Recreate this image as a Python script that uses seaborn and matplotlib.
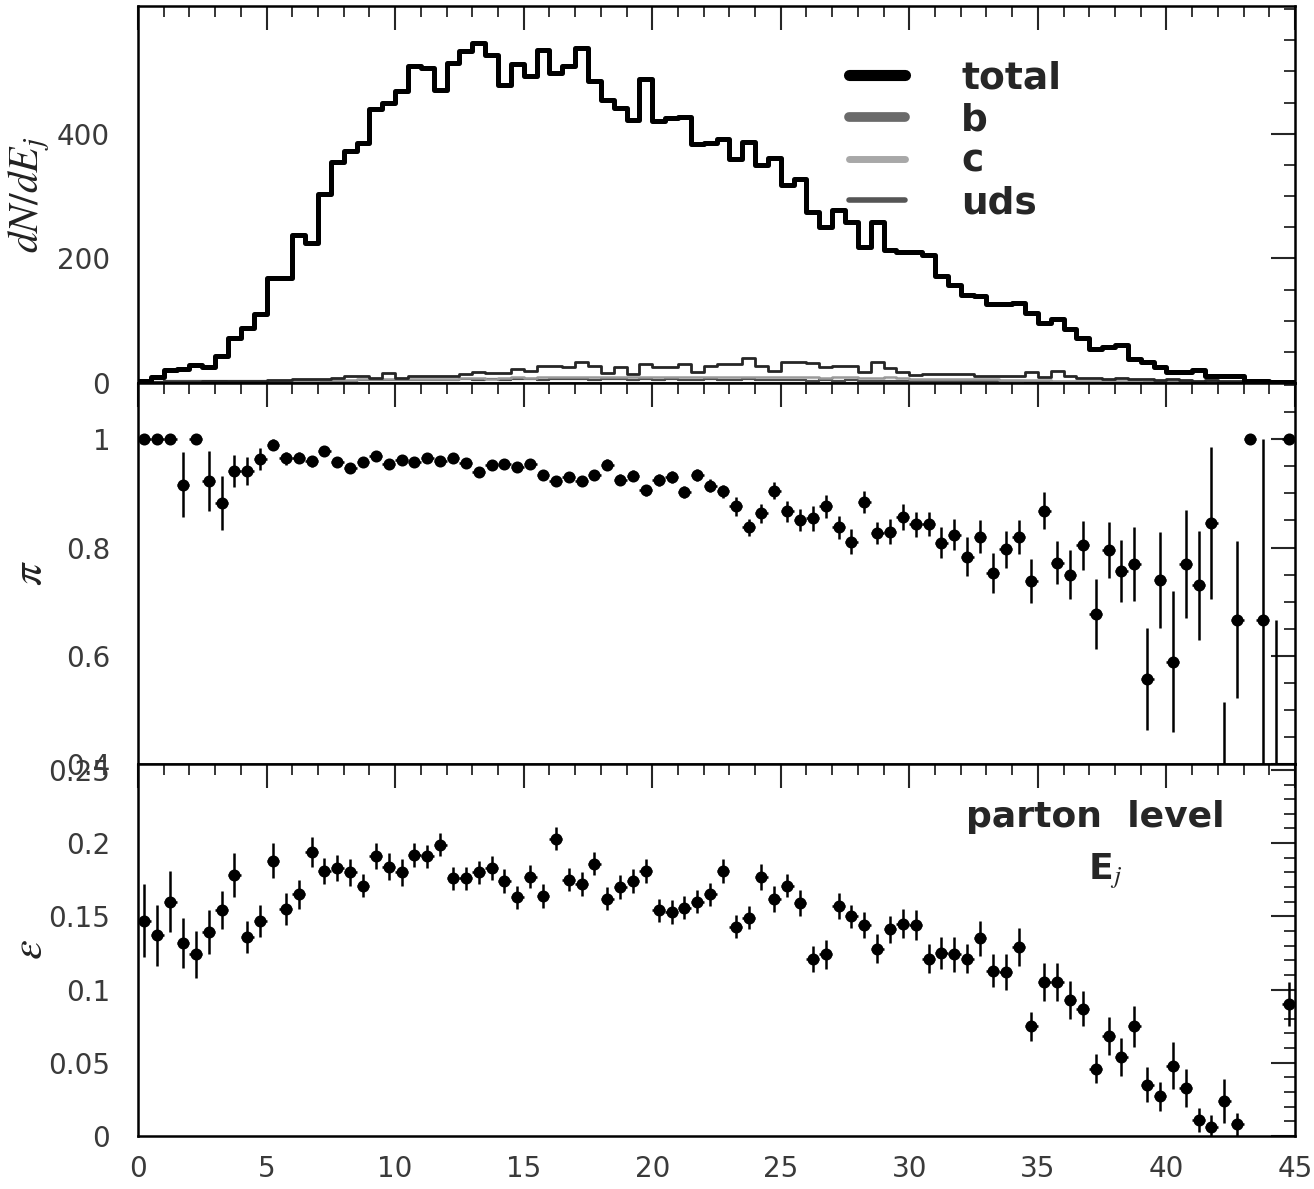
import numpy as np
import pandas as pd
import matplotlib
matplotlib.use("Agg")
import matplotlib.pyplot as plt
from matplotlib.ticker import MultipleLocator, FixedLocator, FuncFormatter
from matplotlib.lines import Line2D
import seaborn as sns

# ---------------- data ----------------
x_min, x_max, bin_width = 0.0, 45.0, 0.5

total_counts = [3, 9, 21, 22, 29, 25, 43, 72, 88, 110,
                168, 169, 238, 224, 304, 354, 372, 385, 439, 450,
                469, 509, 505, 470, 513, 533, 545, 526, 478, 512,
                492, 535, 498, 509, 537, 485, 454, 441, 422, 488,
                421, 426, 427, 384, 385, 392, 360, 387, 350, 361,
                317, 327, 274, 250, 277, 258, 218, 259, 214, 211,
                211, 206, 172, 157, 141, 139, 126, 126, 129, 113,
                96, 102, 86, 73, 54, 57, 61, 39, 33, 26,
                18, 18, 21, 12, 11, 11, 4, 4, 2, 2]

b_counts = [1, 1, 2, 2, 2, 3, 3, 3, 4, 4,
            5, 5, 6, 6, 7, 8, 11, 11, 8, 16,
            8, 11, 11, 11, 12, 14, 18, 16, 16, 22,
            19, 27, 27, 26, 33, 28, 16, 26, 14, 31,
            25, 25, 31, 18, 27, 31, 30, 40, 28, 19,
            33, 34, 32, 25, 28, 27, 18, 34, 24, 18,
            13, 15, 15, 14, 14, 12, 12, 11, 11, 18,
            10, 19, 12, 8, 8, 7, 8, 6, 6, 5,
            6, 5, 4, 5, 4, 4, 3, 2, 2, 1]

c_counts = [1, 1, 2, 2, 2, 2, 2, 3, 3, 3,
            3, 4, 4, 4, 5, 5, 5, 6, 6, 6,
            6, 7, 7, 6, 7, 8, 8, 7, 8, 9,
            8, 9, 9, 10, 9, 10, 9, 10, 9, 10,
            9, 10, 9, 10, 9, 10, 10, 9, 9, 10,
            9, 9, 10, 8, 9, 9, 8, 8, 9, 8,
            7, 7, 7, 6, 6, 6, 6, 5, 5, 5,
            5, 4, 4, 4, 3, 3, 3, 3, 2, 2,
            2, 2, 2, 1, 1, 1, 1, 1, 0, 0]

uds_counts = [2, 2, 3, 3, 3, 3, 3, 3, 3, 3,
              3, 4, 4, 4, 4, 4, 4, 5, 5, 5,
              5, 5, 5, 5, 5, 6, 5, 6, 5, 6,
              6, 5, 6, 6, 6, 5, 6, 6, 5, 6,
              5, 6, 5, 5, 6, 5, 5, 6, 5, 5,
              5, 5, 4, 5, 4, 5, 4, 4, 4, 4,
              4, 4, 3, 3, 3, 3, 3, 3, 3, 2,
              2, 2, 2, 2, 2, 2, 1, 1, 1, 1,
              1, 1, 1, 1, 1, 0, 0, 0, 0, 0]

purity = [1.0, 1.0, 1.0, 0.916, 1.0, 0.923, 0.883, 0.941, 0.942, 0.964,
          0.99, 0.965, 0.966, 0.959, 0.978, 0.958, 0.947, 0.958, 0.969, 0.954,
          0.962, 0.958, 0.966, 0.960, 0.965, 0.957, 0.939, 0.953, 0.955, 0.949,
          0.954, 0.934, 0.922, 0.931, 0.923, 0.934, 0.953, 0.925, 0.933, 0.906,
          0.924, 0.931, 0.903, 0.934, 0.914, 0.904, 0.876, 0.837, 0.863, 0.905,
          0.867, 0.851, 0.854, 0.876, 0.837, 0.811, 0.884, 0.827, 0.829, 0.857,
          0.843, 0.844, 0.809, 0.824, 0.783, 0.82, 0.753, 0.797, 0.819, 0.738,
          0.868, 0.772, 0.75, 0.804, 0.677, 0.796, 0.756, 0.77, 0.557, 0.74,
          0.589, 0.77, 0.73, 0.845, 0.37, 0.667, 1.0, 0.667, 0.333, 1.0]

purity_err = [0.0, 0.0, 0.0, 0.06, 0.0, 0.055, 0.05, 0.03, 0.026, 0.02,
              0.01, 0.012, 0.01, 0.01, 0.008, 0.008, 0.008, 0.008, 0.007, 0.007,
              0.007, 0.007, 0.007, 0.007, 0.007, 0.007, 0.007, 0.007, 0.007, 0.008,
              0.008, 0.009, 0.009, 0.009, 0.009, 0.009, 0.01, 0.01, 0.01, 0.01,
              0.011, 0.011, 0.011, 0.012, 0.012, 0.012, 0.017, 0.016, 0.018, 0.016,
              0.019, 0.021, 0.023, 0.021, 0.021, 0.023, 0.02, 0.021, 0.023, 0.024,
              0.023, 0.022, 0.028, 0.028, 0.036, 0.031, 0.037, 0.034, 0.031, 0.04,
              0.034, 0.04, 0.046, 0.045, 0.065, 0.052, 0.057, 0.068, 0.095, 0.088,
              0.13, 0.1, 0.1, 0.14, 0.145, 0.145, 0.0, 0.333, 0.333, 0.0]

efficiency = [0.147, 0.137, 0.160, 0.132, 0.124, 0.139, 0.154, 0.178, 0.136, 0.147,
              0.188, 0.155, 0.165, 0.194, 0.181, 0.183, 0.180, 0.171, 0.191, 0.184,
              0.180, 0.192, 0.191, 0.199, 0.176, 0.176, 0.180, 0.183, 0.174, 0.163,
              0.177, 0.164, 0.203, 0.175, 0.172, 0.186, 0.162, 0.170, 0.174, 0.181,
              0.154, 0.153, 0.156, 0.160, 0.165, 0.181, 0.143, 0.149, 0.177, 0.162,
              0.171, 0.159, 0.121, 0.124, 0.157, 0.150, 0.144, 0.128, 0.141, 0.145,
              0.144, 0.121, 0.125, 0.124, 0.121, 0.135, 0.113, 0.112, 0.129, 0.075,
              0.105, 0.105, 0.093, 0.087, 0.046, 0.068, 0.054, 0.075, 0.035, 0.027,
              0.048, 0.033, 0.011, 0.006, 0.024, 0.008, np.nan, np.nan, np.nan, 0.090]

efficiency_err = [0.025, 0.021, 0.021, 0.017, 0.016, 0.015, 0.013, 0.015, 0.011, 0.011,
                  0.012, 0.011, 0.010, 0.010, 0.009, 0.009, 0.009, 0.008, 0.009, 0.009,
                  0.009, 0.008, 0.008, 0.008, 0.008, 0.008, 0.008, 0.008, 0.008, 0.008,
                  0.008, 0.008, 0.008, 0.008, 0.008, 0.008, 0.008, 0.008, 0.008, 0.008,
                  0.008, 0.008, 0.008, 0.008, 0.008, 0.008, 0.008, 0.008, 0.009, 0.009,
                  0.008, 0.009, 0.009, 0.010, 0.009, 0.008, 0.009, 0.010, 0.009, 0.010,
                  0.010, 0.010, 0.011, 0.012, 0.010, 0.012, 0.011, 0.012, 0.013, 0.010,
                  0.013, 0.013, 0.013, 0.012, 0.010, 0.013, 0.013, 0.014, 0.012, 0.010,
                  0.016, 0.013, 0.008, 0.008, 0.015, 0.008, np.nan, np.nan, np.nan, 0.015]

legend_labels = ["total", "b", "c", "uds"]
x_ticks = [0, 5, 10, 15, 20, 25, 30, 35, 40, 45]

# ---------------- setup ----------------
sns.set_style("white")
plt.rcParams["font.family"] = ["DejaVu Sans"]
plt.rcParams["mathtext.fontset"] = "stix"

n_bins = int(round((x_max - x_min) / bin_width))
centers = x_min + bin_width * (np.arange(n_bins) + 0.5)

df = pd.DataFrame({"E": centers, "total": total_counts, "b": b_counts,
                   "c": c_counts, "uds": uds_counts,
                   "pi": purity, "pi_err": purity_err,
                   "eps": efficiency, "eps_err": efficiency_err})

W, H = 1314, 1189
fig = plt.figure(figsize=(W / 100, H / 100), dpi=100)
fig.patch.set_facecolor("white")

left = 138 / W
width = (1295 - 138) / W
def pos(top_px, bot_px):
    return [left, 1 - bot_px / H, width, (bot_px - top_px) / H]

ax_top = fig.add_axes(pos(6, 383))
ax_mid = fig.add_axes(pos(383, 764))
ax_bot = fig.add_axes(pos(764, 1136))

tick_col = "#3a3a3a"
fmt = FuncFormatter(lambda v, p: f"{v:g}")

def style_axis(ax, show_x):
    ax.set_xlim(x_min, x_max)
    ax.xaxis.set_major_locator(FixedLocator(x_ticks))
    ax.xaxis.set_minor_locator(MultipleLocator(1))
    ax.tick_params(axis="both", which="major", direction="in", length=17, width=1.5,
                   top=True, right=True, labelsize=20, labelcolor=tick_col, pad=14)
    ax.tick_params(axis="both", which="minor", direction="in", length=8, width=1.3,
                   top=True, right=True)
    ax.tick_params(axis="y", which="major", pad=20)
    ax.tick_params(axis="x", labelbottom=show_x)
    ax.xaxis.set_major_formatter(fmt)
    ax.yaxis.set_major_formatter(fmt)
    for s in ax.spines.values():
        s.set_linewidth(1.8)
        s.set_color("black")
    ax.set_xlabel("")

def set_ylab(ax, text, size):
    ax.set_ylabel(text, fontsize=size, color="#222")
    ax.yaxis.label.set_verticalalignment("center")
    ax.yaxis.set_label_coords(-0.094, 0.5)

# ---------------- top panel: histograms ----------------
hist_styles = [("uds", "#4a4a4a", 1.6), ("c", "#9a9a9a", 1.8),
               ("b", "#262626", 2.0), ("total", "black", 3.6)]
for col, color, lw in hist_styles:
    sns.histplot(data=df, x="E", weights=col, binwidth=bin_width,
                 binrange=(x_min, x_max), element="step",
                 fill=False, color=color, linewidth=lw, ax=ax_top)
ax_top.set_ylim(0, 605)
ax_top.yaxis.set_major_locator(FixedLocator([0, 200, 400]))
ax_top.yaxis.set_minor_locator(MultipleLocator(50))
style_axis(ax_top, False)
set_ylab(ax_top, r"$dN/dE_j$", 30)

handles = [Line2D([], [], color="black", lw=8),
           Line2D([], [], color="#6a6a6a", lw=7),
           Line2D([], [], color="#a8a8a8", lw=5),
           Line2D([], [], color="#555555", lw=4)]
leg = ax_top.legend(handles, legend_labels, loc="upper left",
                    bbox_to_anchor=(0.598, 0.905), frameon=False,
                    prop={"size": 27, "weight": "bold"}, handlelength=1.5,
                    handletextpad=1.5, labelspacing=0.15, borderpad=0)

# ---------------- middle panel: purity ----------------
ax_mid.errorbar(df["E"], df["pi"], yerr=df["pi_err"], xerr=bin_width / 2,
                fmt="none", ecolor="black", elinewidth=1.8, capsize=0)
sns.scatterplot(data=df, x="E", y="pi", ax=ax_mid, color="black", s=75,
                marker="o", edgecolor="black", linewidth=0, zorder=3)
ax_mid.set_ylim(0.4, 1.104)
ax_mid.yaxis.set_major_locator(MultipleLocator(0.2))
ax_mid.yaxis.set_minor_locator(MultipleLocator(0.05))
style_axis(ax_mid, False)
set_ylab(ax_mid, r"$\pi$", 32)

# ---------------- bottom panel: efficiency ----------------
ax_bot.errorbar(df["E"], df["eps"], yerr=df["eps_err"], xerr=bin_width / 2,
                fmt="none", ecolor="black", elinewidth=1.8, capsize=0)
sns.scatterplot(data=df, x="E", y="eps", ax=ax_bot, color="black", s=75,
                marker="o", edgecolor="black", linewidth=0, zorder=3)
ax_bot.set_ylim(0, 0.254)
ax_bot.yaxis.set_major_locator(MultipleLocator(0.05))
ax_bot.yaxis.set_minor_locator(MultipleLocator(0.01))
style_axis(ax_bot, True)
set_ylab(ax_bot, r"$\varepsilon$", 32)

ax_bot.text(0.716, 0.83, "parton  level", transform=ax_bot.transAxes,
            fontsize=26, fontweight="bold", ha="left", va="baseline")
ax_bot.text(0.821, 0.69, r"E$_j$", transform=ax_bot.transAxes,
            fontsize=26, fontweight="bold", ha="left", va="baseline")

fig.savefig("out.png", dpi=100, facecolor="white")
